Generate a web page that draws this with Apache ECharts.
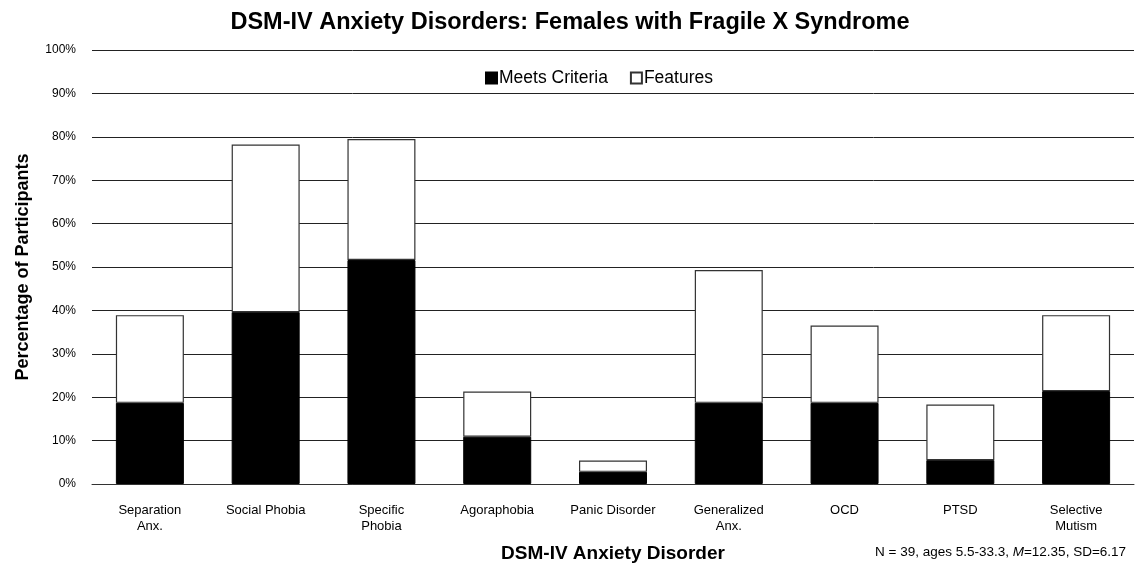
<!DOCTYPE html>
<html>
<head>
<meta charset="utf-8">
<script src="https://cdn.jsdelivr.net/npm/echarts@6/dist/echarts.min.js"></script>
<style>
  html, body { margin: 0; padding: 0; background: #fff; }
  #main { width: 1140px; height: 570px; }
</style>
</head>
<body>
<div id="main"></div>
<script>
var categories = ['Separation\nAnx.', 'Social Phobia', 'Specific\nPhobia', 'Agoraphobia', 'Panic Disorder',
                  'Generalized\nAnx.', 'OCD', 'PTSD', 'Selective\nMutism'];
// percent meeting criteria, and the extra percent with features only (stacked on top)
var meetsCriteria = [18.7, 39.6, 51.6, 10.9, 2.8, 18.7, 18.7, 5.5, 21.4];
var features      = [20.2, 38.6, 27.9, 10.4, 2.6, 30.6, 17.8, 12.8, 17.5];
var yTicks = [0, 10, 20, 30, 40, 50, 60, 70, 80, 90, 100];

var font = "'Liberation Sans', Arial, sans-serif";
var myChart = echarts.init(document.getElementById('main'));

var option = {
    animation: false,
    backgroundColor: '#fff',
    textStyle: { fontFamily: font, color: '#000' },
    title: {
        text: 'DSM-IV Anxiety Disorders: Females with Fragile X Syndrome',
        left: 'center',
        top: 6,
        textStyle: { fontFamily: font, fontSize: 23.5, fontWeight: 'bold', color: '#000' }
    },
    legend: {
        top: 64,
        left: 480,
        itemGap: 22,
        itemWidth: 11,
        itemHeight: 11,
        icon: 'rect',
        textStyle: { fontFamily: font, fontSize: 17.5, color: '#000', padding: [0, 0, 0, -3] },
        data: ['Meets Criteria', 'Features']
    },
    grid: { left: 92, right: 6, top: 50, bottom: 86, outerBoundsMode: 'none' },
    xAxis: {
        type: 'category',
        data: categories,
        axisTick: { show: false },
        axisLine: { lineStyle: { color: '#333', width: 1 } },
        axisLabel: { fontFamily: font, fontSize: 13, color: '#000', margin: 18, lineHeight: 16, interval: 0 },
        name: 'DSM-IV Anxiety Disorder',
        nameLocation: 'middle',
        nameGap: 60,
        nameTextStyle: { fontFamily: font, fontSize: 19, fontWeight: 'bold', color: '#000' }
    },
    yAxis: {
        type: 'value',
        min: yTicks[0],
        max: yTicks[yTicks.length - 1],
        interval: 10,
        axisLine: { show: false },
        axisTick: { show: false },
        splitLine: { lineStyle: { color: '#222', width: 1 } },
        axisLabel: { fontFamily: font, fontSize: 12, color: '#000', margin: 16, formatter: '{value}%' },
        name: 'Percentage of Participants',
        nameLocation: 'middle',
        nameGap: 60,
        nameTextStyle: { fontFamily: font, fontSize: 18, fontWeight: 'bold', color: '#000' }
    },
    series: [
        {
            name: 'Meets Criteria',
            type: 'bar',
            stack: 'total',
            barWidth: 68,
            data: meetsCriteria,
            itemStyle: { color: '#000', borderColor: '#000', borderWidth: 1 }
        },
        {
            name: 'Features',
            type: 'bar',
            stack: 'total',
            barWidth: 68,
            data: features,
            itemStyle: { color: '#fff', borderColor: '#333', borderWidth: 1.2 }
        }
    ],
    graphic: [{
        type: 'text',
        left: 875,
        top: 545,
        style: {
            rich: {
                n: { fontFamily: font, fontSize: 13.5, fill: '#000' },
                i: { fontFamily: font, fontSize: 13.5, fontStyle: 'italic', fill: '#000' }
            },
            text: '{n|N = 39, ages 5.5-33.3, }{i|M}{n|=12.35, SD=6.17}'
        }
    }]
};

myChart.setOption(option);
</script>
</body>
</html>
